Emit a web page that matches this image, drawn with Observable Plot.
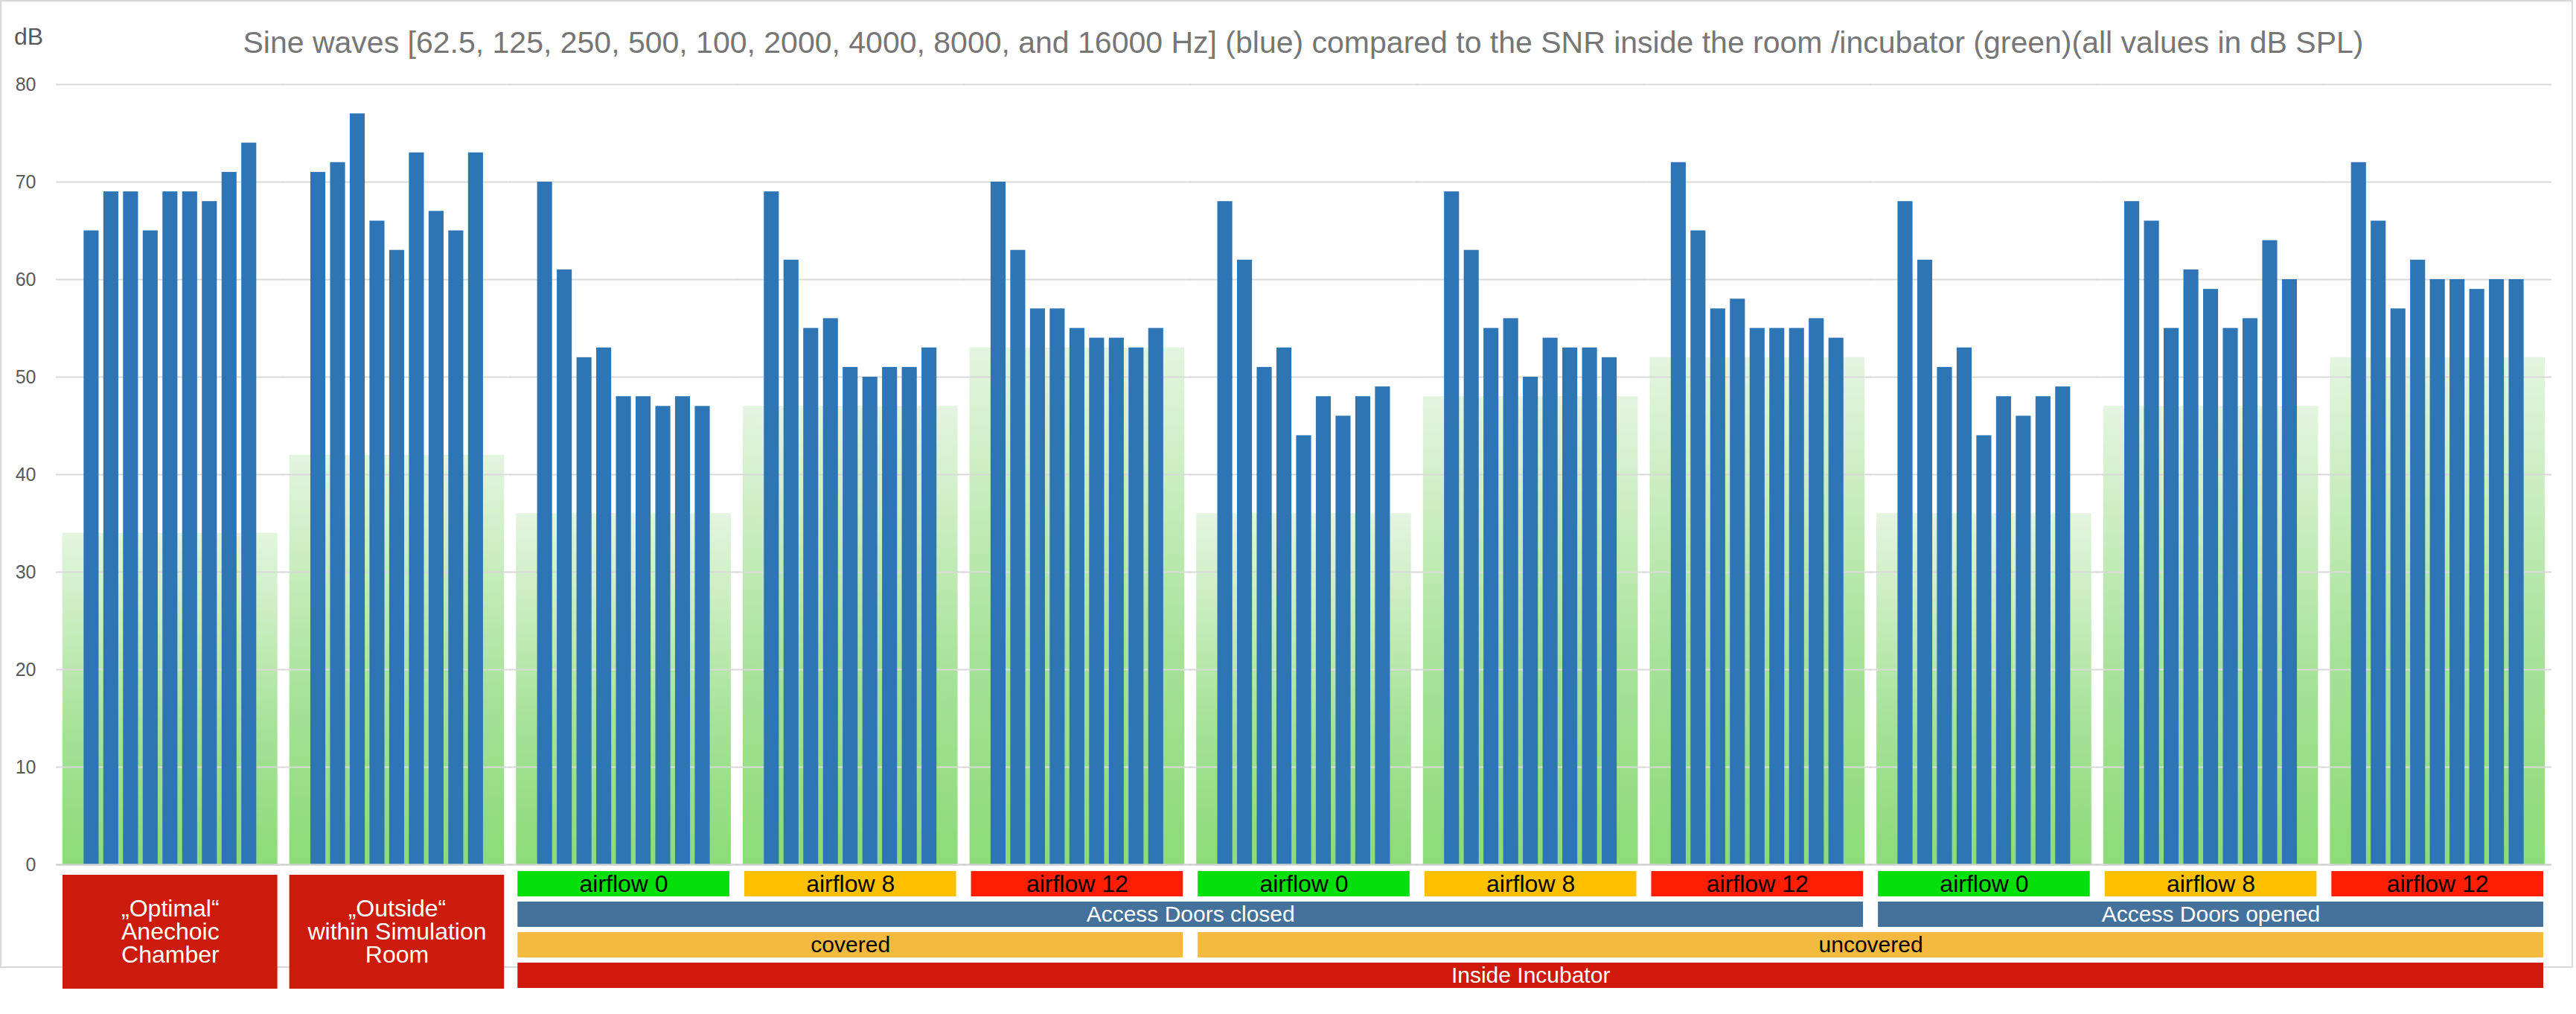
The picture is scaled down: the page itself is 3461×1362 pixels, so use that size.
<!DOCTYPE html>
<html>
<head>
<meta charset="utf-8">
<script src="https://cdn.jsdelivr.net/npm/d3@7"></script>
<script src="https://cdn.jsdelivr.net/npm/@observablehq/plot@0.6"></script>
<style>
  html, body { margin: 0; padding: 0; background: #ffffff; }
  #wrap { position: relative; width: 3461px; height: 1362px; overflow: hidden;
          font-family: "Liberation Sans", Arial, Helvetica, sans-serif; }
  #border { position: absolute; left: 0; top: 0; width: 3457px; height: 1300px;
            border: 2px solid #d9d9d9; box-sizing: border-box; }
  #title { position: absolute; left: 1751px; top: 37px; transform: translateX(-50%);
           white-space: nowrap; font-size: 41px; line-height: 41px; color: #767676; }
  #unit { position: absolute; left: 19px; top: 33px; font-size: 32px; line-height: 32px; color: #595959; }
  #main, #ann { position: absolute; left: 0; }
  #main { top: 0; }
  #ann { top: 1161px; }
</style>
</head>
<body>
<div id="wrap">
  <div id="border"></div>
  <div id="title">Sine waves [62.5, 125, 250, 500, 100, 2000, 4000, 8000, and 16000 Hz] (blue) compared to the SNR inside the room /incubator (green)(all values in dB SPL)</div>
  <div id="unit">dB</div>
  <div id="main"></div>
  <div id="ann"></div>
</div>
<script>
// ---------------- data ----------------
const groups = [
  "Anechoic chamber", "Outside (simulation room)",
  "Closed · covered · airflow 0", "Closed · covered · airflow 8", "Closed · covered · airflow 12",
  "Closed · uncovered · airflow 0", "Closed · uncovered · airflow 8", "Closed · uncovered · airflow 12",
  "Opened · uncovered · airflow 0", "Opened · uncovered · airflow 8", "Opened · uncovered · airflow 12"
];
const frequencies = ["62.5", "125", "250", "500", "1000", "2000", "4000", "8000", "16000"];
const sineLevels = [
  [65, 69, 69, 65, 69, 69, 68, 71, 74],
  [71, 72, 77, 66, 63, 73, 67, 65, 73],
  [70, 61, 52, 53, 48, 48, 47, 48, 47],
  [69, 62, 55, 56, 51, 50, 51, 51, 53],
  [70, 63, 57, 57, 55, 54, 54, 53, 55],
  [68, 62, 51, 53, 44, 48, 46, 48, 49],
  [69, 63, 55, 56, 50, 54, 53, 53, 52],
  [72, 65, 57, 58, 55, 55, 55, 56, 54],
  [68, 62, 51, 53, 44, 48, 46, 48, 49],
  [68, 66, 55, 61, 59, 55, 56, 64, 60],
  [72, 66, 57, 62, 60, 60, 59, 60, 60]
];
const snrLevels = [34, 42, 36, 47, 53, 36, 48, 52, 36, 47, 52];
const yTicks = [0, 10, 20, 30, 40, 50, 60, 70, 80];

// annotation rows (group index ranges, first..last inclusive)
const rowNames = ["airflow", "doors", "cover", "location"];
const referenceSpans = [
  {label: "\u201EOptimal\u201C\nAnechoic\nChamber", first: 0, last: 0},
  {label: "\u201EOutside\u201C\nwithin Simulation\nRoom", first: 1, last: 1}
];
const airflowLabels = ["airflow 0", "airflow 8", "airflow 12", "airflow 0", "airflow 8", "airflow 12", "airflow 0", "airflow 8", "airflow 12"];
const airflowFirstGroup = 2;
const doorSpans = [
  {label: "Access Doors closed", first: 2, last: 7},
  {label: "Access Doors opened", first: 8, last: 10}
];
const coverSpans = [
  {label: "covered", first: 2, last: 4},
  {label: "uncovered", first: 5, last: 10}
];
const locationSpans = [
  {label: "Inside Incubator", first: 2, last: 10}
];

// ---------------- styles ----------------
const FONT = "'Liberation Sans', Arial, Helvetica, sans-serif";
const boxFill = {
  "airflow 0": "#05e00b", "airflow 8": "#ffc000", "airflow 12": "#ff1e00",
  "Access Doors closed": "#45729c", "Access Doors opened": "#45729c",
  "covered": "#f4b93f", "uncovered": "#f4b93f",
  "Inside Incubator": "#cf1a0b"
};
const textFill = {
  "airflow 0": "#000000", "airflow 8": "#000000", "airflow 12": "#000000",
  "Access Doors closed": "#ffffff", "Access Doors opened": "#ffffff",
  "covered": "#000000", "uncovered": "#000000",
  "Inside Incubator": "#ffffff"
};
const textSize = [32, 30, 30, 30]; // by row

// ---------------- tables ----------------
const bars = groups.flatMap((g, i) => frequencies.map((f, j) => ({group: g, freq: f, level: sineLevels[i][j]})));
const snr = groups.map((g, i) => ({group: g, level: snrLevels[i]}));

const rowRects = [
  ...airflowLabels.map((label, k) => ({label, row: 0, x1: airflowFirstGroup + k, x2: airflowFirstGroup + k + 1})),
  ...doorSpans.map(s => ({label: s.label, row: 1, x1: s.first, x2: s.last + 1})),
  ...coverSpans.map(s => ({label: s.label, row: 2, x1: s.first, x2: s.last + 1})),
  ...locationSpans.map(s => ({label: s.label, row: 3, x1: s.first, x2: s.last + 1}))
];
const refRects = referenceSpans.map(s => ({label: s.label, x1: s.first, x2: s.last + 1, y1: 0, y2: rowNames.length}));

// ---------------- main chart ----------------
const WIDTH = 3461, ML = 76, MR = 34;
const step = (WIDTH - ML - MR) / groups.length;
const gap = 16;

const main = Plot.plot({
  width: WIDTH,
  height: 1166,
  marginTop: 113,
  marginBottom: 5,
  marginLeft: ML,
  marginRight: MR,
  style: {fontFamily: FONT, fontSize: "25px", color: "#595959", background: "transparent", overflow: "visible"},
  fx: {domain: groups, paddingInner: gap / step, paddingOuter: gap / 2 / step, round: false, axis: null, label: null},
  x: {domain: frequencies, paddingInner: 0.24, paddingOuter: 1.07, round: false, axis: null, label: null},
  y: {domain: [0, 80], ticks: yTicks, tickSize: 0, tickPadding: 36, label: null},
  marks: [
    Plot.barY(snr, {fx: "group", y: "level", fill: "url(#snrGradient)"}),
    Plot.ruleY(yTicks.filter(d => d > 0), {stroke: "#d9d9d9", strokeWidth: 2, insetLeft: -9, insetRight: -9}),
    Plot.barY(bars, {fx: "group", x: "freq", y: "level", fill: "#2e75b6"}),
    Plot.ruleY([0], {stroke: "#d0d0d0", strokeWidth: 2.5, insetLeft: -9, insetRight: -9})
  ]
});
const ns = "http://www.w3.org/2000/svg";
const defs = document.createElementNS(ns, "defs");
defs.innerHTML =
  '<linearGradient id="snrGradient" x1="0" y1="0" x2="0" y2="1">' +
  '<stop offset="0" stop-color="#e3f5df"/>' +
  '<stop offset="0.3" stop-color="#c5ecba"/>' +
  '<stop offset="0.6" stop-color="#a5e297"/>' +
  '<stop offset="1" stop-color="#8cdb78"/>' +
  '</linearGradient>';
main.insertBefore(defs, main.firstChild);
document.getElementById("main").appendChild(main);

// ---------------- annotation rows ----------------
const ann = Plot.plot({
  width: WIDTH,
  height: 193,
  marginTop: 9,
  marginBottom: 20,
  marginLeft: ML,
  marginRight: MR,
  style: {fontFamily: FONT, background: "transparent", overflow: "visible"},
  x: {domain: [0, groups.length], axis: null},
  y: {domain: [0, rowNames.length], reverse: true, axis: null},
  color: {type: "identity"},
  marks: [
    Plot.rect(refRects, {x1: "x1", x2: "x2", y1: "y1", y2: "y2", fill: "#cd1b0b",
      insetLeft: gap / 2, insetRight: gap / 2, insetTop: 5, insetBottom: 6}),
    Plot.rect(rowRects, {x1: "x1", x2: "x2", y1: "row", y2: d => d.row + 1, fill: d => boxFill[d.label],
      insetLeft: 10, insetRight: 10, insetBottom: 7}),
    Plot.text(refRects, {x: d => (d.x1 + d.x2) / 2, y: d => (d.y1 + d.y2) / 2, text: "label",
      fill: "#ffffff", fontSize: 32, lineHeight: 0.97, lineAnchor: "middle"}),
    ...[0, 1, 2, 3].map(r => Plot.text(rowRects.filter(d => d.row === r), {
      x: d => (d.x1 + d.x2) / 2, y: d => d.row + 0.5, dy: -3.5, text: "label",
      fill: d => textFill[d.label], fontSize: textSize[r], lineAnchor: "middle"}))
  ]
});
document.getElementById("ann").appendChild(ann);
</script>
</body>
</html>
